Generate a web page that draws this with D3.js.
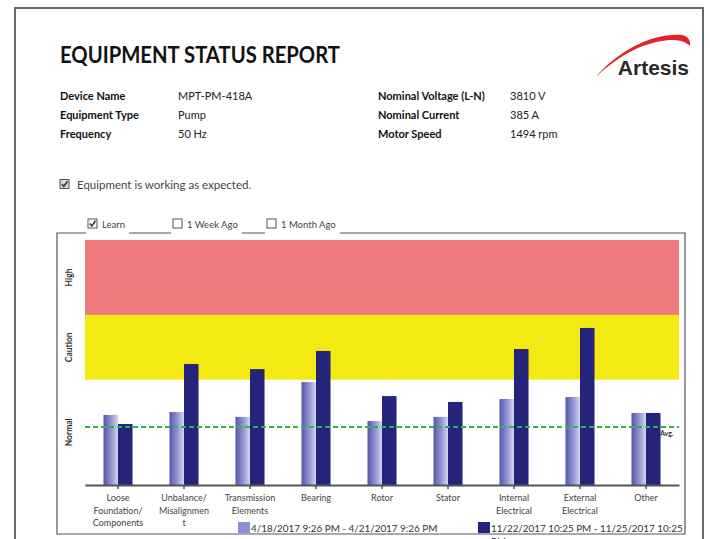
<!DOCTYPE html>
<html>
<head>
<meta charset="utf-8">
<script src="https://cdn.jsdelivr.net/npm/d3@7"></script>
<style>
  body { margin: 0; background: #fff; }
  svg { display: block; font-family: Lato, "Open Sans", sans-serif; }
</style>
</head>
<body>
<div id="chart"></div>
<script>
// categories, one entry per group, split in the lines shown under the axis
var categories = [
  ["Loose", "Foundation/", "Components"],
  ["Unbalance/", "Misalignmen", "t"],
  ["Transmission", "Elements"],
  ["Bearing"],
  ["Rotor"],
  ["Stator"],
  ["Internal", "Electrical"],
  ["External", "Electrical"],
  ["Other"]
];
var learnValues   = [28.6, 29.8, 27.8, 42.0, 26.1, 27.8, 35.1, 35.9, 29.4];
var currentValues = [24.9, 49.4, 47.3, 54.7, 36.3, 33.9, 55.5, 64.1, 29.4];
var avgValue = 23.7;

var zoneNames  = ["Normal", "Caution", "High"];
var zoneBounds = [0, 43, 69.4, 100];

var seriesLabels = ["4/18/2017 9:26 PM - 4/21/2017 9:26 PM", "11/22/2017 10:25 PM - 11/25/2017 10:25 PM"];
var periodNames = ["Learn", "1 Week Ago", "1 Month Ago"];
var periodChecked = [true, false, false];

var infoLeft  = [["Device Name", "MPT-PM-418A"], ["Equipment Type", "Pump"], ["Frequency", "50 Hz"]];
var infoRight = [["Nominal Voltage (L-N)", "3810 V"], ["Nominal Current", "385 A"], ["Motor Speed", "1494 rpm"]];

var width = 710, height = 539;
var plot = {left: 85, right: 679, top: 240, bottom: 485};

var svg = d3.select("#chart").append("svg")
  .attr("width", width)
  .attr("height", height);

var defs = svg.append("defs");
var grad = defs.append("linearGradient").attr("id", "learnGrad")
  .attr("x1", "0%").attr("x2", "100%").attr("y1", "0%").attr("y2", "0%");
grad.append("stop").attr("offset", "0%").attr("stop-color", "#5357ab");
grad.append("stop").attr("offset", "55%").attr("stop-color", "#9395d1");
grad.append("stop").attr("offset", "100%").attr("stop-color", "#d6d6f0");

// page border
svg.append("path")
  .attr("d", "M15,540 V8 H703 V540")
  .style("fill", "none").style("stroke", "#6a6a6a").style("stroke-width", 2);

// header
svg.append("text")
  .attr("x", 60).attr("y", 63)
  .attr("textLength", 280).attr("lengthAdjust", "spacingAndGlyphs")
  .style("font-size", "22px").style("font-weight", "bold").style("fill", "#111")
  .text("EQUIPMENT STATUS REPORT");

// logo
svg.append("path")
  .attr("d", "M596,77 C618,51 652,33 682,35 C688,36 691,41 690,46 C686,42 680,40 672,40 C646,41 620,54 596,77 Z")
  .style("fill", "#e3232a");
svg.append("text")
  .attr("x", 689).attr("y", 75).attr("text-anchor", "end")
  .style("font-family", "'Liberation Sans', Arial, sans-serif")
  .style("font-size", "21px").style("font-weight", "bold").style("fill", "#2a2a2a")
  .text("Artesis");

function infoBlock(rows, xLabel, xValue) {
  var g = svg.append("g");
  rows.forEach(function(r, i) {
    var yy = 100 + i * 19;
    g.append("text").attr("x", xLabel).attr("y", yy)
      .style("font-size", "11px").style("font-weight", "bold").style("fill", "#111")
      .text(r[0]);
    g.append("text").attr("x", xValue).attr("y", yy)
      .style("font-size", "11px").style("fill", "#222")
      .text(r[1]);
  });
}
infoBlock(infoLeft, 60, 178);
infoBlock(infoRight, 378, 510);

// status check
function checkbox(g, x, yy, size, checked, filled) {
  g.append("rect").attr("x", x).attr("y", yy).attr("width", size).attr("height", size)
    .style("fill", filled ? "#d8d8d8" : "#fff").style("stroke", "#555").style("stroke-width", 1);
  if (checked) {
    g.append("path")
      .attr("d", "M" + (x + 1.8) + "," + (yy + size * 0.5) + " L" + (x + size * 0.42) + "," + (yy + size - 2) + " L" + (x + size - 1.5) + "," + (yy + 1.8))
      .style("fill", "none").style("stroke", "#333").style("stroke-width", 1.5);
  }
}
var statusLine = svg.append("g");
checkbox(statusLine, 60, 179.5, 9, true, true);
statusLine.append("text").attr("x", 77).attr("y", 189)
  .style("font-size", "11.5px").style("fill", "#444")
  .text("Equipment is working as expected.");

// chart frame
svg.append("path")
  .attr("d", "M57,534 V233 H685 V534 Z")
  .style("fill", "none").style("stroke", "#555").style("stroke-width", 1.2);

// period selector on the frame
var periodX = [88, 173, 267];
var periods = svg.selectAll(".period")
  .data(periodNames)
  .enter().append("g")
  .attr("class", "period")
  .attr("transform", function(d, i) { return "translate(" + periodX[i] + ",0)"; });
periods.each(function(d, i) {
  var g = d3.select(this);
  var bg = g.append("rect").attr("x", -2).attr("y", 214).attr("height", 22).style("fill", "#fff");
  checkbox(g, 0, 219, 9, periodChecked[i], false);
  var t = g.append("text").attr("x", 14).attr("y", 228)
    .style("font-size", "9.5px").style("fill", "#444").text(d);
  bg.attr("width", 14 + t.node().getComputedTextLength() + 6);
});

// scales
var x0 = d3.scaleBand()
  .domain(categories.map(function(c) { return c.join(" "); }))
  .range([plot.left, plot.right])
  .paddingInner(0.56)
  .paddingOuter(0.28);

var x1 = d3.scaleBand()
  .domain(["learn", "current"])
  .range([0, x0.bandwidth()]);

var y = d3.scaleLinear()
  .domain([0, 100])
  .range([plot.bottom, plot.top]);

// zones
var zoneColors = ["#ffffff", "#f2ea12", "#f27b80"];
svg.selectAll(".zone")
  .data(zoneNames)
  .enter().append("rect")
  .attr("class", "zone")
  .attr("x", plot.left)
  .attr("width", plot.right - plot.left)
  .attr("y", function(d, i) { return y(zoneBounds[i + 1]); })
  .attr("height", function(d, i) { return y(zoneBounds[i]) - y(zoneBounds[i + 1]); })
  .style("fill", function(d, i) { return zoneColors[i]; });

svg.selectAll(".zone-label")
  .data(zoneNames)
  .enter().append("text")
  .attr("class", "zone-label")
  .attr("transform", function(d, i) {
    return "translate(72," + ((y(zoneBounds[i]) + y(zoneBounds[i + 1])) / 2) + ") rotate(-90)";
  })
  .attr("text-anchor", "middle")
  .style("font-size", "8.5px").style("font-weight", "bold").style("fill", "#333")
  .text(function(d) { return d; });

// bars
var rows = categories.map(function(c, i) {
  return {key: c.join(" "), learn: learnValues[i], current: currentValues[i]};
});

var groups = svg.selectAll(".group")
  .data(rows)
  .enter().append("g")
  .attr("class", "group")
  .attr("transform", function(d) { return "translate(" + x0(d.key) + ",0)"; });

groups.append("rect")
  .attr("x", x1("learn"))
  .attr("width", x1.bandwidth())
  .attr("y", function(d) { return y(d.learn); })
  .attr("height", function(d) { return y(0) - y(d.learn); })
  .style("fill", "url(#learnGrad)");

groups.append("rect")
  .attr("x", x1("current"))
  .attr("width", x1.bandwidth())
  .attr("y", function(d) { return y(d.current); })
  .attr("height", function(d) { return y(0) - y(d.current); })
  .style("fill", "#24257a");

// average line
svg.append("line")
  .attr("x1", plot.left).attr("x2", plot.right)
  .attr("y1", y(avgValue)).attr("y2", y(avgValue))
  .style("stroke", "#2fb34a").style("stroke-width", 2).style("stroke-dasharray", "5,3");
svg.append("text")
  .attr("x", 660).attr("y", y(avgValue) + 9)
  .style("font-size", "7px").style("font-weight", "bold").style("fill", "#333")
  .text("Avg.");

// x axis
var xAxis = svg.append("g")
  .attr("transform", "translate(0," + plot.bottom + ")")
  .call(d3.axisBottom(x0).tickSize(4).tickSizeOuter(0));
xAxis.select(".domain").style("stroke", "#555").style("stroke-width", 2);
xAxis.selectAll(".tick line").style("stroke", "#555").style("stroke-width", 1.5);
xAxis.selectAll(".tick text").remove();
xAxis.selectAll(".tick").each(function(d, i) {
  var t = d3.select(this).append("text")
    .attr("y", 16).attr("text-anchor", "middle")
    .style("font-size", "9px").style("fill", "#444")
    .style("font-family", "Lato, 'Open Sans', sans-serif");
  categories[i].forEach(function(line, j) {
    t.append("tspan").attr("x", 0).attr("dy", j === 0 ? 0 : 12.5).text(line);
  });
});

// series legend
var legendX = [238, 478];
var legendFill = ["#8b8ed2", "#24257a"];
var legend = svg.selectAll(".legend")
  .data(seriesLabels)
  .enter().append("g")
  .attr("class", "legend")
  .attr("transform", function(d, i) { return "translate(" + legendX[i] + ",522)"; });
legend.append("rect")
  .attr("width", 12).attr("height", 11)
  .style("fill", function(d, i) { return legendFill[i]; });
legend.append("text")
  .attr("x", 13).attr("y", 10)
  .style("font-size", "9.9px").style("fill", "#333")
  .each(function(d, i) {
    var t = d3.select(this);
    if (i === 1) {
      var cut = d.lastIndexOf(" ");
      t.append("tspan").attr("x", 13).text(d.slice(0, cut));
      t.append("tspan").attr("x", 13).attr("dy", 13).text(d.slice(cut + 1));
    } else {
      t.text(d);
    }
  });
</script>
</body>
</html>
